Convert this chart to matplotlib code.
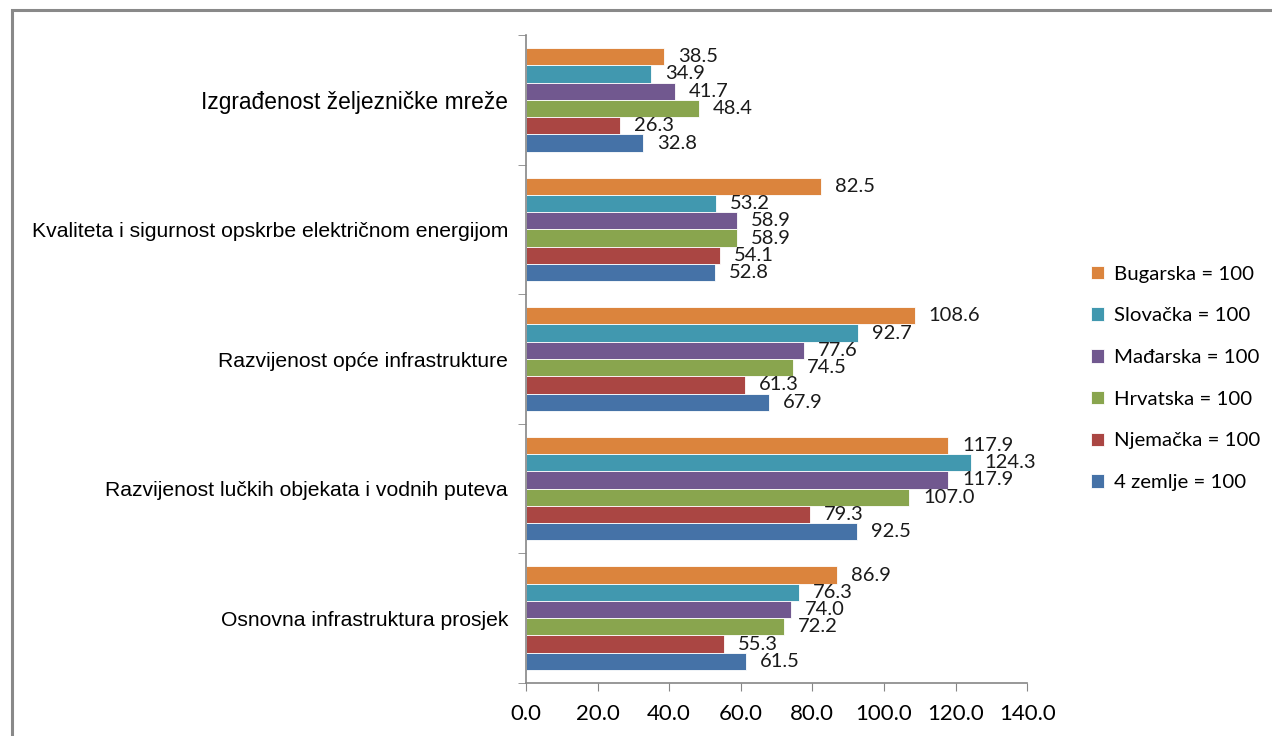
"""Bar chart: osnovna infrastruktura, indeksi prema referentnim zemljama."""
import numpy as np
import matplotlib

matplotlib.use("Agg")
import matplotlib.pyplot as plt
from matplotlib.patches import Rectangle


CATEGORIES = [
    "Izgrađenost željezničke mreže",
    "Kvaliteta i sigurnost opskrbe električnom energijom",
    "Razvijenost opće infrastrukture",
    "Razvijenost lučkih objekata i vodnih puteva",
    "Osnovna infrastruktura prosjek",
]

# series listed top-to-bottom inside each group
SERIES = [
    "Bugarska = 100",
    "Slovačka = 100",
    "Mađarska = 100",
    "Hrvatska = 100",
    "Njemačka = 100",
    "4 zemlje = 100",
]

bugarska = [38.5, 82.5, 108.6, 117.9, 86.9]
slovacka = [34.9, 53.2, 92.7, 124.3, 76.3]
madarska = [41.7, 58.9, 77.6, 117.9, 74.0]
hrvatska = [48.4, 58.9, 74.5, 107.0, 72.2]
njemacka = [26.3, 54.1, 61.3, 79.3, 55.3]
cetiri_zemlje = [32.8, 52.8, 67.9, 92.5, 61.5]

VALUES = [bugarska, slovacka, madarska, hrvatska, njemacka, cetiri_zemlje]
COLORS = ["#DB843D", "#4198AF", "#71588F", "#89A54E", "#AA4643", "#4572A7"]

X_TICKS = [0, 20, 40, 60, 80, 100, 120, 140]

NUM_FONT = ["Lato", "DejaVu Sans"]
CAT_FONT = ["Liberation Sans", "DejaVu Sans"]


def main() -> None:
    fig = plt.figure(figsize=(12.72, 7.36), dpi=100)
    ax = fig.add_axes([0.4135, 0.072, 0.394, 0.8804])

    n_cat = len(CATEGORIES)
    n_ser = len(SERIES)
    group = 0.8
    h = group / n_ser
    centers = np.arange(n_cat)[::-1].astype(float)

    handles = []
    for i, (name, vals, col) in enumerate(zip(SERIES, VALUES, COLORS)):
        ypos = centers + group / 2 - h * (i + 0.5)
        bars = ax.barh(ypos, vals, height=h, color=col, edgecolor="white",
                       linewidth=0.6, label=name)
        handles.append(bars)
        for y, v in zip(ypos, vals):
            ax.annotate(f"{v:.1f}", xy=(v, y), xytext=(10, 0),
                        textcoords="offset points", va="center", ha="left",
                        fontsize=14.5, family=NUM_FONT, color="#1a1a1a")

    ax.set_xlim(0, 140)
    ax.set_ylim(-0.5, n_cat - 0.5)
    ax.set_xticks(X_TICKS)
    ax.set_xticklabels([f"{t:.1f}" for t in X_TICKS], family=NUM_FONT,
                       fontsize=16)

    ax.set_yticks(centers)
    ax.set_yticklabels(CATEGORIES, family=CAT_FONT, fontsize=15.2)
    ax.get_yticklabels()[0].set_fontsize(16.4)
    ax.set_yticks(np.arange(n_cat + 1) - 0.5, minor=True)
    ax.tick_params(axis="y", which="major", length=0, pad=13)
    ax.tick_params(axis="y", which="minor", length=6, color="#868686")
    ax.tick_params(axis="x", length=6, color="#868686", pad=9)

    for side in ("top", "right"):
        ax.spines[side].set_visible(False)
    for side in ("left", "bottom"):
        ax.spines[side].set_color("#868686")
        ax.spines[side].set_linewidth(1.2)

    # legend: top entry Bugarska
    fig.legend(handles=handles, labels=SERIES, loc="upper left",
               bbox_to_anchor=(0.843, 0.664), frameon=False,
               prop={"family": NUM_FONT, "size": 14.7},
               handlelength=0.65, handleheight=0.65, handletextpad=0.5,
               labelspacing=1.21)

    # outer chart border (cut by the image edges)
    fig.patches.append(Rectangle((12 / 1272, -0.05), 1.1, 1.05 - 10 / 736,
                                 transform=fig.transFigure, fill=False,
                                 edgecolor="#898989", linewidth=2.2))

    fig.savefig("out.png", dpi=100)


if __name__ == "__main__":
    main()
